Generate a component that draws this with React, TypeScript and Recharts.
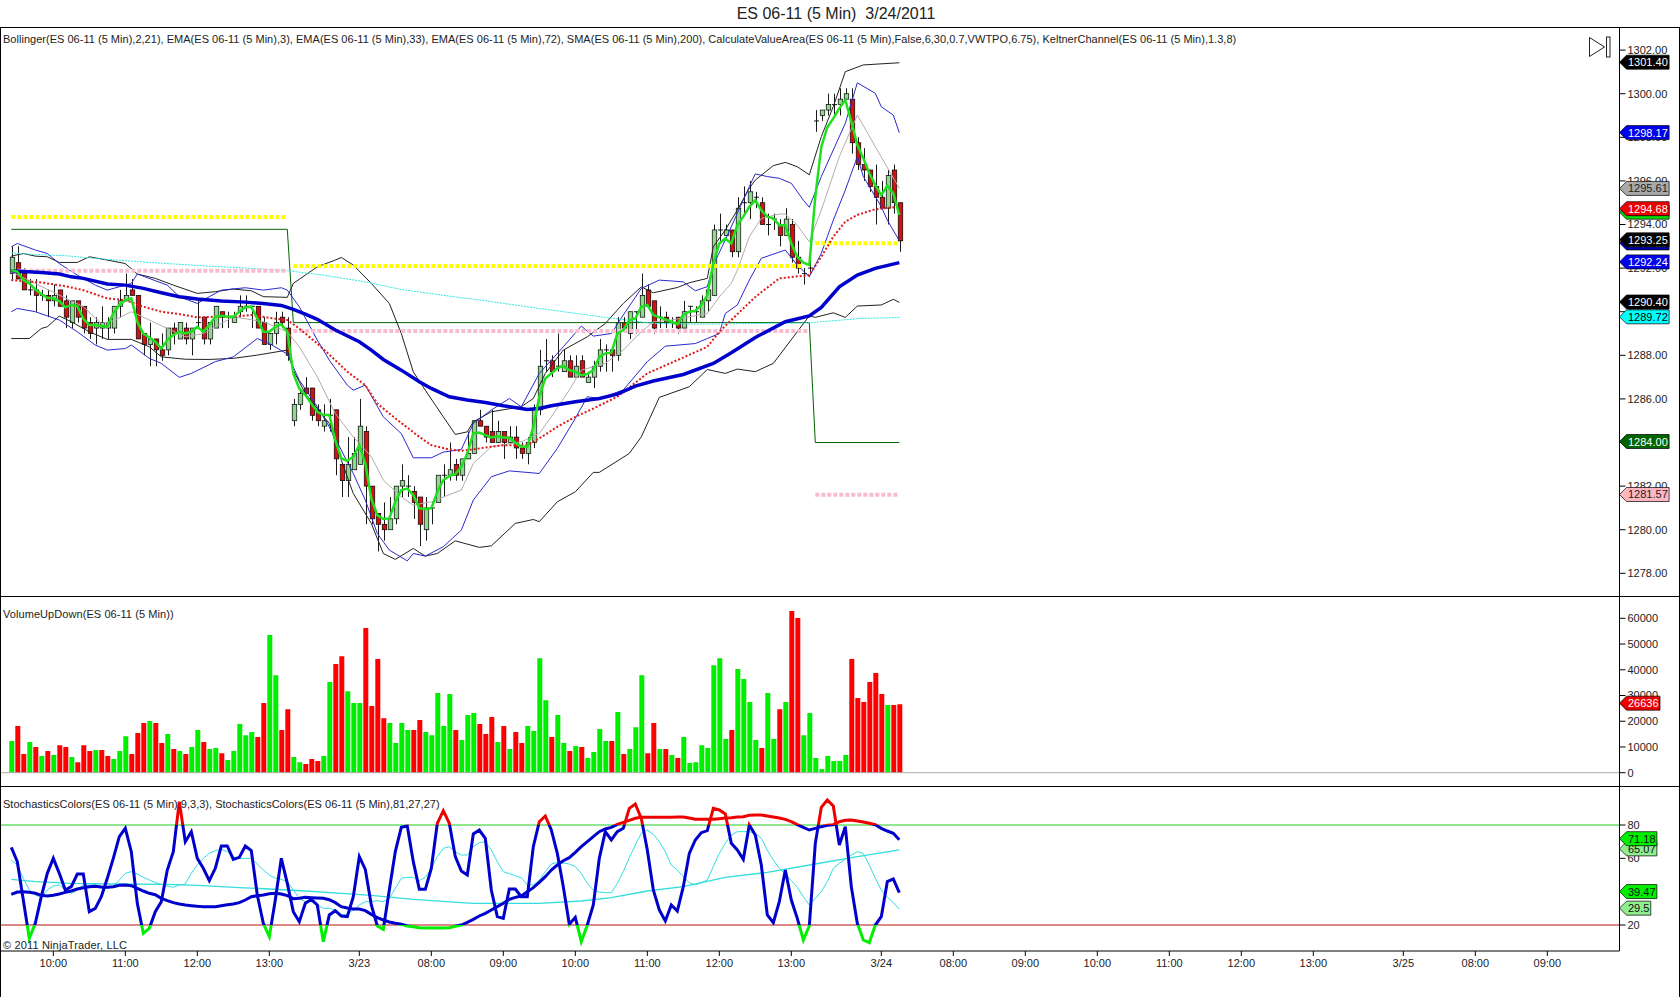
import { Bar, Cell, ComposedChart, Line, ReferenceLine, XAxis, YAxis } from "recharts";

const FONT = '"Liberation Sans", Arial, sans-serif';
const TICK = { fill: "#222", fontSize: 11, fontFamily: FONT };

// x axis: one slot per 5 minute bar, the right half of the chart stays empty
const xTickBars = [7, 19, 31, 43, 58, 70, 82, 94, 106, 118, 130, 145, 157, 169, 181, 193, 205, 217, 232, 244, 256];
const xTickLabels = ["10:00", "11:00", "12:00", "13:00", "3/23", "08:00", "09:00", "10:00", "11:00", "12:00", "13:00", "3/24", "08:00", "09:00", "10:00", "11:00", "12:00", "13:00", "3/25", "08:00", "09:00"];
const xDomain = [-1.717, 268.03];

const priceTicks = [1278, 1280, 1282, 1284, 1286, 1288, 1290, 1292, 1294, 1296, 1298, 1300, 1302];
const volumeTicks = [0, 10000, 20000, 30000, 40000, 50000, 60000];
const stochTicks = [20, 40, 60, 80];

const opens = [
  1291.75, 1292.25, 1291.75, 1291, 1291, 1290.75, 1290.75, 1290.5, 1291, 1290.5,
  1289.5, 1290.5, 1290.25, 1289.5, 1289.25, 1289.25, 1289.25, 1289.25, 1290.25, 1290.5,
  1291, 1290.75, 1289, 1288.5, 1288.75, 1288.25, 1288.25, 1289.25, 1288.75, 1289.25,
  1288.75, 1289.5, 1289.75, 1288.75, 1289.25, 1290, 1289.75, 1289.5, 1290, 1290.25,
  1290.25, 1290.25, 1289.5, 1288.5, 1289, 1289.75, 1289.25, 1285, 1285.75, 1286.5,
  1286.5, 1285.5, 1284.75, 1285.25, 1285.5, 1283, 1282.25, 1282.75, 1283, 1284.5,
  1282, 1280.75, 1280.25, 1280, 1280.5, 1282, 1282, 1281.75, 1281.5, 1280,
  1281, 1281.25, 1282.5, 1282.5, 1283, 1282.5, 1283.25, 1283.5, 1285, 1284.75,
  1284.5, 1284, 1284.5, 1284, 1284.25, 1283.75, 1283.5, 1284, 1285.5, 1287.75,
  1287.75, 1287.5, 1287.25, 1287.75, 1287, 1287.75, 1286.75, 1287, 1287.5, 1288.25,
  1288.25, 1288, 1289.5, 1289, 1290, 1289.75, 1291, 1290.5, 1289.75, 1289.75,
  1289.5, 1289.75, 1289.25, 1290.25, 1290, 1289.75, 1290.5, 1290.75, 1293.75, 1293.5,
  1293.75, 1292.75, 1295, 1295, 1295.25, 1295, 1294, 1294.25, 1294, 1293.5,
  1294, 1292.5, 1291.75, 1292, 1298.75, 1299, 1299.25, 1299.5, 1299.5, 1299.75,
  1299.75, 1297.75, 1296.75, 1296.5, 1295.75, 1295.25, 1294.75, 1296.5, 1295,
];
const closes = [
  1292.5, 1291.5, 1291, 1291, 1290.75, 1290.75, 1290.5, 1290.75, 1290.25, 1289.75,
  1290.5, 1289.75, 1289.25, 1289, 1289.5, 1289.5, 1289.5, 1290.25, 1290.5, 1290.75,
  1290.75, 1288.75, 1288.5, 1288.75, 1288.25, 1288, 1289.25, 1289, 1289.5, 1288.75,
  1289.25, 1289.5, 1288.75, 1289.5, 1290.25, 1289.75, 1289.75, 1289.75, 1290.25, 1290.25,
  1290.25, 1289.25, 1288.5, 1289, 1289.5, 1289.5, 1288, 1285.75, 1286.25, 1286.25,
  1285.25, 1285, 1285, 1285.25, 1283.25, 1282.25, 1283, 1283.5, 1284.75, 1282,
  1280.5, 1280.25, 1280, 1280.5, 1282, 1282.25, 1282, 1281.25, 1280.25, 1281,
  1281, 1282.5, 1282.5, 1282.75, 1282.5, 1283.25, 1283.5, 1285, 1284.75, 1284.25,
  1284, 1284.5, 1284, 1284.25, 1283.75, 1283.5, 1284, 1285.5, 1287.5, 1287.75,
  1287.25, 1287.5, 1287.75, 1287, 1287.5, 1287, 1287, 1287.5, 1288.25, 1288.25,
  1288, 1289.5, 1289.25, 1290, 1290, 1290.75, 1290.25, 1289.25, 1289.75, 1289.5,
  1289.5, 1289.25, 1290, 1290.25, 1290, 1290.5, 1291, 1293.75, 1293.75, 1293.75,
  1292.75, 1294.75, 1295, 1295.5, 1295.25, 1294, 1294, 1294.25, 1293.5, 1294.25,
  1292.5, 1292, 1291.75, 1292, 1298.75, 1299.25, 1299.5, 1299.5, 1299.75, 1300,
  1297.75, 1296.75, 1296.5, 1295.75, 1295.25, 1294.75, 1296.25, 1295, 1293.25,
];
const highs = [
  1293, 1293, 1292, 1291.5, 1291.5, 1291, 1291, 1291.25, 1291, 1290.75,
  1290.5, 1290.5, 1290.25, 1289.75, 1289.75, 1290.25, 1289.75, 1290.25, 1291, 1291.75,
  1291.5, 1290.75, 1289, 1289.5, 1288.75, 1289, 1289.25, 1289.5, 1289.5, 1289.5,
  1289.25, 1290.5, 1289.75, 1289.5, 1290.25, 1290, 1290, 1290, 1290.75, 1290.75,
  1290.25, 1290.25, 1289.75, 1289, 1290, 1290, 1289.75, 1286, 1286.5, 1287,
  1286.5, 1285.75, 1285.75, 1286, 1285.5, 1283, 1284.25, 1284.25, 1286, 1284.75,
  1282, 1280.75, 1281.25, 1281.5, 1282, 1283, 1282.5, 1282, 1281.5, 1281.5,
  1281.25, 1282.5, 1283, 1284, 1283.25, 1283.25, 1284.5, 1285, 1285.5, 1284.75,
  1285.5, 1285, 1284.5, 1284.75, 1284.75, 1284, 1284.25, 1285.75, 1288.25, 1288.75,
  1288, 1289, 1288.25, 1288, 1288, 1288, 1287.25, 1287.75, 1288.75, 1288.5,
  1288.25, 1289.75, 1289.75, 1290, 1290, 1291.75, 1291.25, 1290.5, 1290.25, 1290,
  1289.75, 1289.75, 1290.5, 1290.25, 1290.25, 1290.75, 1291.25, 1294, 1294.5, 1294,
  1293.75, 1295.25, 1295.75, 1296, 1295.5, 1295.25, 1294.5, 1294.5, 1294.25, 1294.75,
  1294.25, 1293.25, 1292, 1293, 1299.25, 1299.25, 1300, 1300, 1300.25, 1300.25,
  1300.25, 1298, 1297.5, 1296.5, 1296.75, 1296, 1296.5, 1296.75, 1295,
];
const lows = [
  1291.5, 1291.5, 1291, 1290.75, 1290, 1290.5, 1289.75, 1290.25, 1290.25, 1289.25,
  1289.25, 1289.5, 1289, 1288.75, 1288.5, 1288.75, 1288.75, 1289, 1289.75, 1290.5,
  1290.75, 1288.75, 1288, 1287.5, 1287.5, 1287.75, 1288, 1288.5, 1288.75, 1288.5,
  1288, 1289.25, 1288.5, 1288.5, 1289.25, 1289.25, 1289.25, 1289.5, 1289.75, 1290,
  1289.25, 1289.25, 1288.5, 1288.25, 1288.5, 1289.25, 1287.75, 1284.75, 1285.5, 1286.25,
  1285, 1284.75, 1284.5, 1284.5, 1282.5, 1281.5, 1281.5, 1282.75, 1283, 1280.25,
  1280.25, 1279, 1279.5, 1280, 1280.25, 1281.5, 1281.5, 1280.5, 1279.25, 1279.5,
  1280.25, 1281.25, 1281.5, 1282.25, 1282.25, 1282.25, 1283.25, 1283.5, 1284.75, 1284,
  1284, 1284, 1283.25, 1284, 1283.25, 1283.25, 1283, 1283.75, 1285.25, 1287.25,
  1287, 1287.25, 1287.25, 1287, 1287, 1287, 1286.75, 1286.5, 1287.25, 1287.25,
  1287.25, 1287.75, 1289.25, 1288.75, 1289, 1289.75, 1290.25, 1289, 1289.25, 1289.25,
  1289.25, 1289, 1289.25, 1289.5, 1289.5, 1289.75, 1290, 1290.75, 1293.25, 1293.5,
  1292.5, 1292.5, 1294.5, 1294.25, 1294.75, 1294, 1293.5, 1293.75, 1293, 1293.5,
  1292.25, 1291.75, 1291.25, 1291.75, 1298.25, 1298.75, 1299, 1299, 1299, 1299.75,
  1297.25, 1296.5, 1296, 1295.5, 1294, 1294.75, 1294, 1294.5, 1292.75,
];

const ema3 = [
  1291.91, 1291.84, 1291.45, 1291.3, 1291.02, 1290.81, 1290.64, 1290.61, 1290.49, 1290.2,
  1290.31, 1290.26, 1289.69, 1289.39, 1289.39, 1289.34, 1289.31, 1289.92, 1290.31, 1290.53,
  1290.61, 1289.54, 1289, 1288.82, 1288.62, 1288.31, 1288.7, 1288.93, 1289.08, 1289,
  1289.08, 1289.31, 1289.08, 1289.39, 1289.77, 1289.81, 1289.77, 1289.77, 1290, 1290.2,
  1290.23, 1289.69, 1289.08, 1289.08, 1289.31, 1289.42, 1289.08, 1287.17, 1286.48, 1286.18,
  1285.79, 1285.41, 1285.26, 1285.26, 1284.11, 1283.27, 1283.16, 1283.35, 1283.88, 1283.04,
  1281.44, 1280.67, 1280.49, 1280.52, 1281.28, 1281.82, 1281.89, 1281.59, 1280.98, 1280.95,
  1280.98, 1281.74, 1282.28, 1282.46, 1282.55, 1282.89, 1283.5, 1284.42, 1284.46, 1284.34,
  1284.23, 1284.29, 1284.23, 1284.23, 1283.99, 1283.81, 1283.81, 1284.72, 1286.1, 1286.94,
  1287.17, 1287.4, 1287.52, 1287.32, 1287.25, 1287.09, 1287.14, 1287.32, 1287.93, 1288.09,
  1288.12, 1289, 1289.16, 1289.62, 1289.69, 1290.23, 1290.31, 1289.85, 1289.74, 1289.65,
  1289.54, 1289.43, 1289.85, 1290, 1290.04, 1290.31, 1290.76, 1292.21, 1293.13, 1293.36,
  1293.13, 1293.97, 1294.36, 1294.81, 1295.12, 1294.66, 1294.36, 1294.28, 1293.97, 1293.97,
  1293.13, 1292.52, 1292.25, 1292.14, 1295.28, 1297.57, 1298.46, 1298.87, 1299.33, 1299.71,
  1298.72, 1297.65, 1297.04, 1296.35, 1295.81, 1295.35, 1295.78, 1295.43, 1294.44,
];

const ema72: number[][] = [
  [0, 1291.88], [2, 1291.85], [5, 1291.8], [8, 1291.73], [10, 1291.6], [12, 1291.53], [16, 1291.27], [19, 1291.22],
  [22, 1291.07], [25, 1290.87], [28, 1290.69], [31, 1290.58], [35, 1290.49], [39, 1290.44], [42, 1290.38], [45, 1290.29],
  [47, 1290.11], [49, 1289.89], [51, 1289.65], [54, 1289.16], [58, 1288.62], [60, 1288.24], [62, 1287.81], [65, 1287.32],
  [68, 1286.79], [70, 1286.48], [73, 1286.1], [76, 1285.95], [79, 1285.84], [82, 1285.69], [85, 1285.56], [86, 1285.52],
  [88, 1285.56], [90, 1285.69], [94, 1285.87], [98, 1286.02], [101, 1286.22], [104, 1286.59], [107, 1286.82], [112, 1287.12],
  [117, 1287.63], [120, 1288.12], [124, 1288.82], [129, 1289.54], [133, 1289.81], [135, 1290.2], [138, 1291.14], [141, 1291.68],
  [144, 1291.99], [148, 1292.25],
];
const ema33: number[][] = [
  [0, 1291.45], [5, 1291.34], [9, 1291.17], [12, 1290.99], [16, 1290.61], [19, 1290.53], [22, 1290.23], [25, 1290],
  [28, 1289.89], [31, 1289.74], [34, 1289.77], [37, 1289.77], [40, 1289.85], [43, 1289.72], [46, 1289.62], [48, 1289.23],
  [51, 1288.54], [54, 1287.78], [56, 1287.25], [59, 1286.63], [61, 1285.79], [64, 1285.11], [68, 1284.26], [70, 1283.88],
  [73, 1283.68], [75, 1283.62], [78, 1283.73], [82, 1283.88], [86, 1283.88], [88, 1284.19], [91, 1284.72], [94, 1285.18],
  [97, 1285.56], [101, 1286.1], [106, 1287.17], [111, 1287.78], [116, 1288.39], [118, 1289.08], [120, 1289.62], [124, 1290.68],
  [128, 1291.53], [133, 1291.68], [135, 1292.52], [137, 1293.44], [139, 1294.13], [141, 1294.44], [144, 1294.7], [148, 1294.82],
];
const bollingerMid: number[][] = [
  [0, 1291.83], [8, 1290.76], [12, 1290.23], [15, 1289.46], [17, 1289.58], [20, 1290], [23, 1289.62], [26, 1289.23],
  [29, 1288.85], [32, 1289], [37, 1289.77], [42, 1289.54], [46, 1289.08], [48, 1288.39], [51, 1287.01], [54, 1285.33],
  [57, 1284.26], [60, 1283.35], [62, 1282.28], [65, 1281.51], [67, 1281.13], [70, 1281.28], [75, 1281.82], [77, 1283.04],
  [80, 1283.81], [85, 1284.03], [88, 1284.42], [90, 1285.18], [93, 1286.41], [95, 1287.32], [99, 1287.63], [102, 1288.24],
  [105, 1289.08], [107, 1289.54], [110, 1289.62], [116, 1289.92], [118, 1290.68], [120, 1291.3], [121, 1291.9], [123, 1293.44],
  [125, 1294.28], [128, 1294.48], [129, 1294.48], [131, 1293.97], [133, 1293.2], [135, 1294.66], [138, 1297.11], [141, 1299.02],
  [144, 1297.57], [148, 1295.66],
];
const blackUpper: number[][] = [
  [0, 1292.55], [2, 1292.67], [4, 1292.55], [6, 1292.52], [8, 1292.26], [11, 1292.26], [13, 1292.52], [16, 1292.37],
  [19, 1292.21], [21, 1291.73], [24, 1291.53], [27, 1291.22], [31, 1290.84], [34, 1290.92], [37, 1291.04], [40, 1290.96],
  [42, 1290.69], [46, 1290.66], [47, 1291.3], [49, 1291.68], [51, 1292.06], [54, 1292.37], [55, 1292.49], [57, 1292.14],
  [60, 1291.3], [63, 1290.38], [65, 1289], [67, 1287.24], [69, 1286.4], [72, 1285.18], [74, 1284.37], [76, 1284.49],
  [77, 1284.95], [80, 1285.41], [85, 1285.64], [87, 1286.02], [89, 1287.17], [92, 1288.24], [96, 1288.85], [99, 1289.46],
  [102, 1290.38], [105, 1291.14], [107, 1290.87], [111, 1291.11], [113, 1291.33], [116, 1291.53], [117, 1292.98], [119, 1293.75],
  [121, 1294.66], [123, 1295.66], [124, 1296.04], [127, 1296.7], [129, 1296.85], [131, 1296.65], [133, 1296.28], [135, 1298.03],
  [137, 1299.41], [139, 1301.01], [142, 1301.32], [148, 1301.42],
];
const blackLower: number[][] = [
  [0, 1288.77], [3, 1288.77], [5, 1289.23], [6, 1289.31], [8, 1289.8], [10, 1289.54], [13, 1289.08], [16, 1288.73],
  [20, 1288.73], [23, 1288.39], [25, 1287.93], [29, 1287.82], [33, 1287.81], [37, 1287.86], [41, 1288.01], [46, 1288.24],
  [47, 1287.32], [49, 1286.25], [53, 1284.87], [55, 1283.19], [57, 1281.66], [60, 1280.29], [62, 1278.91], [64, 1278.64],
  [67, 1279.14], [69, 1278.79], [71, 1278.91], [74, 1279.49], [78, 1279.19], [80, 1279.26], [84, 1280.29], [87, 1280.47],
  [88, 1280.37], [91, 1281.28], [94, 1281.74], [97, 1282.63], [98, 1282.63], [103, 1283.5], [105, 1284.26], [108, 1286.07],
  [113, 1286.56], [116, 1287.35], [119, 1287.17], [121, 1287.37], [124, 1287.25], [127, 1287.63], [133, 1289.81], [134, 1289.74],
  [137, 1289.95], [139, 1289.74], [141, 1290.26], [145, 1290.31], [147, 1290.57], [148, 1290.43],
];
const blueUpper: number[][] = [
  [0, 1292.98], [1, 1293.13], [4, 1292.83], [6, 1292.67], [8, 1292.21], [11, 1291.68], [14, 1291.22], [16, 1290.99],
  [20, 1291.3], [21, 1291.73], [26, 1291.22], [28, 1290.69], [31, 1290.38], [33, 1290.69], [35, 1290.99], [39, 1291.1],
  [42, 1290.99], [45, 1291.1], [46, 1290.99], [48, 1290.23], [51, 1288.7], [53, 1287.78], [56, 1286.63], [57, 1286.4],
  [59, 1286.63], [62, 1285.18], [65, 1284.41], [67, 1283.3], [70, 1283.3], [72, 1283.56], [75, 1283.68], [77, 1284.87],
  [80, 1285.49], [83, 1286.02], [85, 1285.64], [88, 1287.17], [92, 1288.39], [95, 1289.34], [97, 1288.88], [100, 1289],
  [102, 1289.85], [105, 1291.07], [108, 1291.45], [112, 1291.37], [114, 1290.96], [116, 1291.15], [117, 1292.14], [119, 1293.29],
  [121, 1294.51], [123, 1295.74], [124, 1296.32], [126, 1296.2], [128, 1296.12], [130, 1295.89], [132, 1295.12], [133, 1294.79],
  [135, 1296.2], [139, 1298.64], [141, 1300.5], [144, 1300.02], [145, 1299.4], [147, 1299.02], [148, 1298.21],
];
const blueLower: number[][] = [
  [0, 1290], [1, 1290.15], [4, 1290], [8, 1289.62], [11, 1289.08], [14, 1288.47], [16, 1288.24], [19, 1288.31],
  [20, 1288.47], [23, 1287.86], [25, 1287.63], [28, 1286.99], [30, 1287.17], [34, 1287.71], [37, 1287.93], [41, 1288.77],
  [43, 1288.54], [46, 1288.06], [48, 1286.86], [51, 1285.64], [53, 1284.72], [57, 1282.58], [59, 1281.36], [61, 1279.83],
  [63, 1279.07], [66, 1278.57], [67, 1278.91], [69, 1278.79], [72, 1279.22], [75, 1279.98], [77, 1281.36], [80, 1282.43],
  [83, 1282.7], [88, 1282.58], [91, 1283.73], [94, 1285.11], [96, 1286.1], [98, 1286.02], [102, 1286.41], [106, 1287.71],
  [109, 1288.42], [114, 1288.54], [116, 1288.77], [118, 1289], [119, 1289.92], [121, 1290.31], [123, 1291.45], [125, 1292.45],
  [129, 1292.83], [131, 1292.14], [133, 1291.6], [135, 1292.68], [137, 1294.2], [139, 1295.58], [141, 1297.11], [142, 1296.2],
  [145, 1294.82], [146, 1294.2], [148, 1293.26],
];
const sma200: number[][] = [
  [0, 1292.7], [4, 1292.62], [9, 1292.57], [16, 1292.4], [23, 1292.26], [33, 1292.09], [40, 1291.99], [46, 1291.88],
  [52, 1291.68], [59, 1291.37], [65, 1291.02], [75, 1290.64], [77, 1290.58], [88, 1290.15], [99, 1289.74], [107, 1289.46],
  [116, 1289.43], [133, 1289.49], [135, 1289.54], [141, 1289.68], [148, 1289.74],
];
const valueAreaMid: number[][] = [[0, 1293.78], [46, 1293.78], [47, 1289.5], [133, 1289.5], [134, 1284], [148, 1284]];
const yellowA: number[][] = [[0, 1294.35], [46, 1294.35]];
const yellowB: number[][] = [[47, 1292.1], [132, 1292.1]];
const yellowC: number[][] = [[134, 1293.14], [148, 1293.14]];
const pinkA: number[][] = [[0, 1291.88], [46, 1291.88]];
const pinkB: number[][] = [[47, 1289.11], [133, 1289.11]];
const pinkC: number[][] = [[134, 1281.6], [148, 1281.6]];

const volumes = [
  12300, 18100, 7250, 11900, 10000, 6500, 8400, 6900, 10700, 10000,
  6100, 4100, 10700, 8400, 8800, 8800, 6500, 5300, 8400, 14200,
  7250, 15400, 19300, 20100, 19300, 11500, 15000, 9200, 8400, 7250,
  10000, 16600, 11900, 9200, 9600, 7600, 4900, 8400, 18900, 14600,
  15800, 13900, 27100, 53500, 37900, 16600, 24700, 6100, 4100, 3400,
  5300, 4500, 6500, 35200, 42200, 45300, 31700, 27100, 27100, 56200,
  25900, 44200, 21200, 19300, 11500, 19300, 16600, 16600, 20500, 15800,
  14600, 31000, 18100, 30600, 16600, 12700, 22400, 23200, 18900, 15000,
  21600, 11900, 18100, 9200, 15800, 11500, 18100, 16200, 44500, 28200,
  13900, 22400, 11500, 8400, 10400, 10000, 5700, 8000, 17000, 12300,
  12300, 23600, 7250, 9200, 17700, 37900, 7600, 19300, 9200, 9200,
  6900, 5700, 13900, 3800, 4100, 10700, 9600, 41800, 44500, 13100,
  16600, 40300, 36400, 27500, 12700, 9600, 31000, 13100, 24700, 27500,
  62800, 60100, 14600, 23200, 5700, 1400, 6500, 4500, 4500, 6900,
  44200, 29000, 27500, 35200, 38700, 30600, 26300, 26300, 26636,
];
const volumeSides = [
  "UDDUDUDUDD", "UDDDUDDUUU", "DDDUDDUDUD", "UUDUUDUUUU", "UDDUUDDUUD",
  "DDUUDDUUUD", "DDDUUUUDDU", "UUUUDUUUDD", "DUDUDDUUUU", "DUUDUDUUUU",
  "DUDUUUDDUD", "UDUUUUUUUU", "DUUUUDUUDU", "DDUUUUUUUU", "DDDDDDUDD",
].join("");

const stochFast = [
  66.6, 58, 35, 12, 21, 37, 51, 60, 51, 41,
  43, 50.6, 50.6, 28, 30, 37, 48, 60, 73, 78,
  64, 33, 15, 18, 28, 34, 53, 64, 94, 70,
  76, 60, 54, 46.6, 54, 67.4, 67.4, 59.4, 60.6, 67.4,
  64.6, 38, 21, 13, 35, 60, 45, 28, 22, 33,
  35.4, 32, 10, 26, 28.6, 25.4, 25, 37, 61, 53.4,
  32, 19.4, 17.4, 41, 64, 78.6, 79.4, 58, 41.4, 41.4,
  54, 81, 88.6, 81, 61, 52.4, 50, 74.6, 77, 72,
  41, 25, 24, 41.6, 41.6, 37, 37, 67, 82, 85.4,
  77, 63, 43, 20.4, 24.6, 10, 20, 32, 60, 76,
  71, 76, 78, 90, 92.6, 84, 65, 41, 29, 22.4,
  32, 28.4, 43, 63, 71, 75.4, 76.6, 90, 89, 86.6,
  69, 65, 59.4, 80, 74, 56, 26, 21.4, 34, 53,
  35, 24, 11, 19.4, 69, 90.6, 95, 91.4, 68, 79,
  43, 21, 11, 9.4, 20, 25, 46, 47.6, 39.47,
];
const stochSlow = [
  38.4, 39.8, 40, 39.6, 39, 37.8, 37.4, 37.8, 38.6, 39.6,
  40.4, 41.6, 42.4, 43, 43.2, 42.8, 42.6, 43, 43.8, 44,
  43.6, 42, 40.4, 39, 38.2, 36, 34.6, 33.4, 32.6, 32,
  31.6, 31.2, 31, 31, 31, 31.6, 32.2, 32.6, 33.4, 35,
  37, 37.6, 38, 38.8, 39, 38.6, 37.6, 35.8, 36, 36.6,
  36.4, 36.2, 36, 35.2, 33.4, 31, 30.2, 29.6, 29.6, 28.6,
  26.4, 24.4, 23, 21.8, 21, 20.4, 19.4, 19, 18.4, 18.2,
  18.2, 18.2, 18.2, 18.4, 19.2, 20, 21.6, 23.4, 25.4, 27,
  29, 31, 33, 35.4, 36.6, 37.4, 40, 42.4, 45.6, 49,
  53, 56, 58.6, 60.4, 63.6, 67, 70, 73, 76, 77.6,
  78.6, 80.4, 81.6, 82.8, 84, 84.6, 84.6, 84.6, 84.6, 84.6,
  84.6, 84.8, 84.8, 84.2, 83.4, 83.4, 83.4, 83.4, 83.8, 84.2,
  84.4, 84.8, 85, 85.8, 86, 86, 85.4, 84.8, 84.2, 83.4,
  82, 80.2, 78.6, 77, 78, 79, 79.8, 80.2, 82, 82.8,
  83, 82.4, 81.8, 81, 80.2, 78, 76.4, 75, 71.18,
];
const stochFastSignal = [
  59, 56, 48, 41, 38, 36.6, 41, 43.4, 44, 41,
  39, 41, 44, 44, 44, 42, 42, 43, 47, 51,
  52, 50.6, 48.6, 47, 45.4, 44.4, 43.4, 42.6, 44, 44.6,
  51, 56, 60, 63, 64.6, 65.4, 64, 61, 59.8, 60,
  60, 56.6, 53, 50, 48, 47.4, 46, 41, 36, 34,
  34, 32, 30, 30, 29, 26, 26.6, 29, 32, 34,
  34, 34.6, 34, 36, 42, 48, 48.6, 48.6, 46.6, 48.6,
  54, 61, 66, 67, 64, 62, 62, 67, 69.4, 70,
  65, 58, 52, 50.8, 49.6, 48.4, 44, 44, 47, 52,
  56.6, 57.6, 57.2, 56.6, 55, 51, 45, 41, 39.8, 39.4,
  39.4, 45, 52, 60.4, 68, 75, 77, 74.4, 70, 64,
  56, 53, 49, 45.4, 44, 45.4, 47, 55, 63, 69,
  74, 76, 76, 76, 75, 72, 65, 59, 54, 50.6,
  46.6, 42.6, 37, 32, 36, 40, 46, 54, 57, 59.4,
  62, 64, 63, 56, 48, 41, 36.6, 33.4, 29.5,
];
const stochSlowSignal: number[][] = [
  [0, 47.4], [4, 46], [10, 45], [17, 44.6], [26, 44.4], [32, 43.6], [38, 42.4], [43, 41.6], [49, 40.4], [55, 39],
  [60, 37.8], [67, 35.4], [75, 33.4], [77, 33], [88, 33], [95, 34.4], [100, 36.4], [106, 40.4], [112, 43], [119, 48.6],
  [126, 51.6], [134, 56.6], [140, 60.4], [148, 65.07],
];

// price flags on the right axis, painted in this order
const priceFlags = ["1301.40", "1298.17", "1289.72", "1290.40", "1281.57", "1284.00", "1295.61", "1294.52", "1294.68", "1293.11", "1293.25", "1292.24"];
const priceFlagFills = ["#000", "#0000ee", "#00ffff", "#000", "#ffb6c1", "#006400", "#a9a9a9", "#00dd00", "#ee0000", "#0000aa", "#000", "#0000ee"];
const priceFlagInks = ["#fff", "#fff", "#000", "#fff", "#222", "#fff", "#222", "#000", "#fff", "#fff", "#fff", "#fff"];
const volumeFlags = ["26636"];
const stochFlags = ["65.07", "71.18", "29.5", "39.47"];
const stochFlagFills = ["#90ee90", "#00ee00", "#90ee90", "#00ee00"];

const priceRows: any[] = opens.map((open, i) => ({
  bar: i,
  open,
  close: closes[i],
  high: highs[i],
  low: lows[i],
  range: [lows[i], highs[i]],
  ema3: ema3[i],
}));
const addPairs = (rows: any[], key: string, pairs: number[][]) => {
  pairs.forEach(([bar, value]) => {
    rows[bar][key] = value;
  });
};
addPairs(priceRows, "ema72", ema72);
addPairs(priceRows, "ema33", ema33);
addPairs(priceRows, "bollingerMid", bollingerMid);
addPairs(priceRows, "blackUpper", blackUpper);
addPairs(priceRows, "blackLower", blackLower);
addPairs(priceRows, "blueUpper", blueUpper);
addPairs(priceRows, "blueLower", blueLower);
addPairs(priceRows, "sma200", sma200);
addPairs(priceRows, "valueAreaMid", valueAreaMid);
addPairs(priceRows, "yellowA", yellowA);
addPairs(priceRows, "yellowB", yellowB);
addPairs(priceRows, "yellowC", yellowC);
addPairs(priceRows, "pinkA", pinkA);
addPairs(priceRows, "pinkB", pinkB);
addPairs(priceRows, "pinkC", pinkC);

const volumeRows = volumes.map((volume, i) => ({ bar: i, volume }));

const stochRows: any[] = stochFast.map((fast, i) => ({
  bar: i,
  fast,
  slow: stochSlow[i],
  fastSignal: stochFastSignal[i],
}));
addPairs(stochRows, "slowSignal", stochSlowSignal);

const Candle = (props: any) => {
  const { x, y, width, height, payload } = props;
  const { open, close, high, low } = payload;
  const toY = (p: number) => y + ((high - p) / (high - low)) * height;
  const mid = Math.round(x + width / 2) + 0.5;
  const top = toY(Math.max(open, close));
  const bottom = toY(Math.min(open, close));
  return (
    <g>
      <line x1={mid} x2={mid} y1={y} y2={y + height} stroke="#000" strokeWidth={0.9} />
      {open === close ? (
        <line x1={mid - 2.5} x2={mid + 2.5} y1={top} y2={top} stroke="#000" strokeWidth={0.9} />
      ) : (
        <rect x={mid - 2.25} y={top} width={4.5} height={bottom - top} fill={close > open ? "#90d890" : "#d41010"} stroke="#000" strokeWidth={0.7} />
      )}
    </g>
  );
};

const Flag = ({ viewBox, text, fill, ink }: any) => {
  const x = viewBox.x + viewBox.width;
  const y = viewBox.y - 1;
  // digits take about 6.1px at this font size, the dot about 3
  const w = text.replace(".", "").length * 6.1 + (text.includes(".") ? 3 : 0) + 10;
  return (
    <g>
      <polygon
        points={`${x},${y} ${x + 7},${y - 7} ${x + w},${y - 7} ${x + w},${y + 7} ${x + 7},${y + 7}`}
        fill={fill}
        stroke="#000"
        strokeWidth={0.7}
      />
      <text x={x + 8.5} y={y + 4} fontSize={11} fontFamily={FONT} fill={ink}>
        {text}
      </text>
    </g>
  );
};

const flagLine = (text: string, fill: string, ink: string) => (
  <ReferenceLine
    key={text}
    y={Number(text)}
    stroke="none"
    label={(p: any) => <Flag viewBox={p.viewBox} text={text} fill={fill} ink={ink} />}
  />
);

// second chart on top of a panel: the flags must cover the axis tick labels
const FlagLayer = ({ top, height, domain, children }: any) => (
  <div style={{ position: "absolute", top, left: 0, pointerEvents: "none" }}>
    <ComposedChart width={1680} height={height} data={[{ bar: 0 }]} margin={{ top: 0, right: 60.5, bottom: 0, left: 1 }}>
      <XAxis dataKey="bar" type="number" domain={xDomain} hide allowDataOverflow />
      <YAxis domain={domain} hide allowDataOverflow />
      {children}
    </ComposedChart>
  </div>
);

const thin = (key: string, color: string, width = 1, dash?: string) => (
  <Line
    key={key}
    dataKey={key}
    stroke={color}
    strokeWidth={width}
    strokeDasharray={dash}
    dot={false}
    connectNulls
    isAnimationActive={false}
  />
);

const Caption = ({ top, left = 3, spacing = 0.02, children }: any) => (
  <div style={{ position: "absolute", top, left, fontFamily: FONT, fontSize: 11, letterSpacing: spacing, color: "#222", whiteSpace: "pre", lineHeight: "14px" }}>
    {children}
  </div>
);

const Rule = ({ top }: any) => <div style={{ position: "absolute", top, left: 0, width: 1680, height: 1, background: "#000" }} />;

const PRICE_DOMAIN = [1276.96, 1303.06];
const VOLUME_DOMAIN = [-5170, 68280];
const STOCH_TOP = 103.4;
const STOCH_BOTTOM = 4.4;

export default function App() {
  const over = (STOCH_TOP - 80) / (STOCH_TOP - STOCH_BOTTOM);
  const under = (STOCH_TOP - 20) / (STOCH_TOP - STOCH_BOTTOM);
  return (
    <div style={{ position: "absolute", top: 0, left: 0, width: 1680, height: 997, background: "#fff", overflow: "hidden" }}>
      <div style={{ position: "absolute", top: 5, left: 0, width: 1672, textAlign: "center", fontFamily: FONT, fontSize: 16, color: "#222", whiteSpace: "pre" }}>
        {"ES 06-11 (5 Min)  3/24/2011"}
      </div>
      <div style={{ position: "absolute", top: 27, left: 0, width: 1678, height: 969, border: "1px solid #000" }} />

      <div style={{ position: "absolute", top: 27, left: 0 }}>
        <ComposedChart width={1680} height={569} data={priceRows} margin={{ top: 0, right: 0, bottom: 0, left: 1 }}>
          <XAxis dataKey="bar" type="number" domain={xDomain} hide allowDataOverflow />
          <YAxis
            orientation="right"
            width={60.5}
            domain={PRICE_DOMAIN}
            ticks={priceTicks}
            interval={0}
            allowDataOverflow
            tick={TICK}
            tickFormatter={(v: number) => v.toFixed(2)}
            tickLine={{ stroke: "#000" }}
            axisLine={{ stroke: "#000" }}
            tickSize={6}
            tickMargin={2}
          />
          <Bar dataKey="range" barSize={5} shape={Candle} isAnimationActive={false} />
          {thin("valueAreaMid", "#006400")}
          {thin("blackUpper", "#222")}
          {thin("blackLower", "#222")}
          {thin("blueUpper", "#2a2acc")}
          {thin("blueLower", "#2a2acc")}
          {thin("bollingerMid", "#b4acac")}
          {thin("sma200", "#33e6e6", 1, "2 1")}
          {thin("pinkA", "#f8bbd0", 4, "4 2")}
          {thin("pinkB", "#f8bbd0", 4, "4 2")}
          {thin("pinkC", "#f8bbd0", 4, "4 2")}
          {thin("yellowA", "#ffff00", 4, "4 2")}
          {thin("yellowB", "#ffff00", 4, "4 2")}
          {thin("yellowC", "#ffff00", 4, "4 2")}
          {thin("ema33", "#e01818", 2, "2 2")}
          {thin("ema72", "#0000cc", 3.5)}
          {thin("ema3", "#1fe01f", 2.5)}
        </ComposedChart>
      </div>
      <FlagLayer top={27} height={569} domain={PRICE_DOMAIN}>
        {priceFlags.map((f, i) => flagLine(f, priceFlagFills[i], priceFlagInks[i]))}
      </FlagLayer>

      <div style={{ position: "absolute", top: 597, left: 0 }}>
        <ComposedChart width={1680} height={189} data={volumeRows} margin={{ top: 0, right: 0, bottom: 0, left: 1 }}>
          <XAxis dataKey="bar" type="number" domain={xDomain} hide allowDataOverflow />
          <YAxis
            orientation="right"
            width={60.5}
            domain={VOLUME_DOMAIN}
            ticks={volumeTicks}
            interval={0}
            allowDataOverflow
            tick={TICK}
            tickLine={{ stroke: "#000" }}
            axisLine={{ stroke: "#000" }}
            tickSize={6}
            tickMargin={2}
          />
          <ReferenceLine y={0} stroke="#aaa" />
          <Bar dataKey="volume" barSize={5} isAnimationActive={false}>
            {volumes.map((_, i) => (
              <Cell key={i} fill={volumeSides[i] === "U" ? "#00ee00" : "#ff0000"} />
            ))}
          </Bar>
        </ComposedChart>
      </div>
      <FlagLayer top={597} height={189} domain={VOLUME_DOMAIN}>
        {volumeFlags.map((f) => flagLine(f, "#ee0000", "#fff"))}
      </FlagLayer>

      <div style={{ position: "absolute", top: 786, left: 0 }}>
        <ComposedChart width={1680} height={211} data={stochRows} margin={{ top: 0, right: 0, bottom: 0, left: 1 }}>
          <defs>
            <linearGradient id="stochStroke" gradientUnits="userSpaceOnUse" x1="0" y1="0" x2="0" y2="165">
              <stop offset={over} stopColor="#ee0000" />
              <stop offset={over} stopColor="#0000cc" />
              <stop offset={under} stopColor="#0000cc" />
              <stop offset={under} stopColor="#00ee00" />
            </linearGradient>
          </defs>
          <XAxis
            dataKey="bar"
            type="number"
            domain={xDomain}
            ticks={xTickBars}
            interval={0}
            allowDataOverflow
            height={46}
            tick={TICK}
            tickFormatter={(v: number) => xTickLabels[xTickBars.indexOf(v)]}
            tickLine={{ stroke: "#000" }}
            axisLine={{ stroke: "#000" }}
            tickSize={5}
            tickMargin={3}
          />
          <YAxis
            orientation="right"
            width={60.5}
            domain={[STOCH_BOTTOM, STOCH_TOP]}
            ticks={stochTicks}
            interval={0}
            allowDataOverflow
            tick={TICK}
            tickLine={{ stroke: "#000" }}
            axisLine={{ stroke: "#000" }}
            tickSize={6}
            tickMargin={2}
          />
          <ReferenceLine y={80} stroke="#22cc22" />
          <ReferenceLine y={20} stroke="#bb1111" />
          {thin("fastSignal", "#33dddd")}
          {thin("slowSignal", "#33dddd", 1.4)}
          {thin("slow", "url(#stochStroke)", 3)}
          {thin("fast", "url(#stochStroke)", 3)}
        </ComposedChart>
      </div>
      <FlagLayer top={786} height={165} domain={[STOCH_BOTTOM, STOCH_TOP]}>
        {stochFlags.map((f, i) => flagLine(f, stochFlagFills[i], "#111"))}
      </FlagLayer>

      <Rule top={596} />
      <Rule top={786} />

      <svg style={{ position: "absolute", top: 36, left: 1588 }} width={24} height={23}>
        <polygon points="1.5,1.5 16.5,11 1.5,20.5" fill="#fff" stroke="#222" />
        <rect x={18.5} y={1} width={3.5} height={20} fill="#fff" stroke="#222" />
      </svg>

      <Caption top={32}>
        {"Bollinger(ES 06-11 (5 Min),2,21), EMA(ES 06-11 (5 Min),3), EMA(ES 06-11 (5 Min),33), EMA(ES 06-11 (5 Min),72), SMA(ES 06-11 (5 Min),200), CalculateValueArea(ES 06-11 (5 Min),False,6,30,0.7,VWTPO,6.75), KeltnerChannel(ES 06-11 (5 Min),1.3,8)"}
      </Caption>
      <Caption top={607} spacing={0.07}>{"VolumeUpDown(ES 06-11 (5 Min))"}</Caption>
      <Caption top={797}>{"StochasticsColors(ES 06-11 (5 Min),9,3,3), StochasticsColors(ES 06-11 (5 Min),81,27,27)"}</Caption>
      <Caption top={938} spacing={0.15}>{"© 2011 NinjaTrader, LLC"}</Caption>
    </div>
  );
}
